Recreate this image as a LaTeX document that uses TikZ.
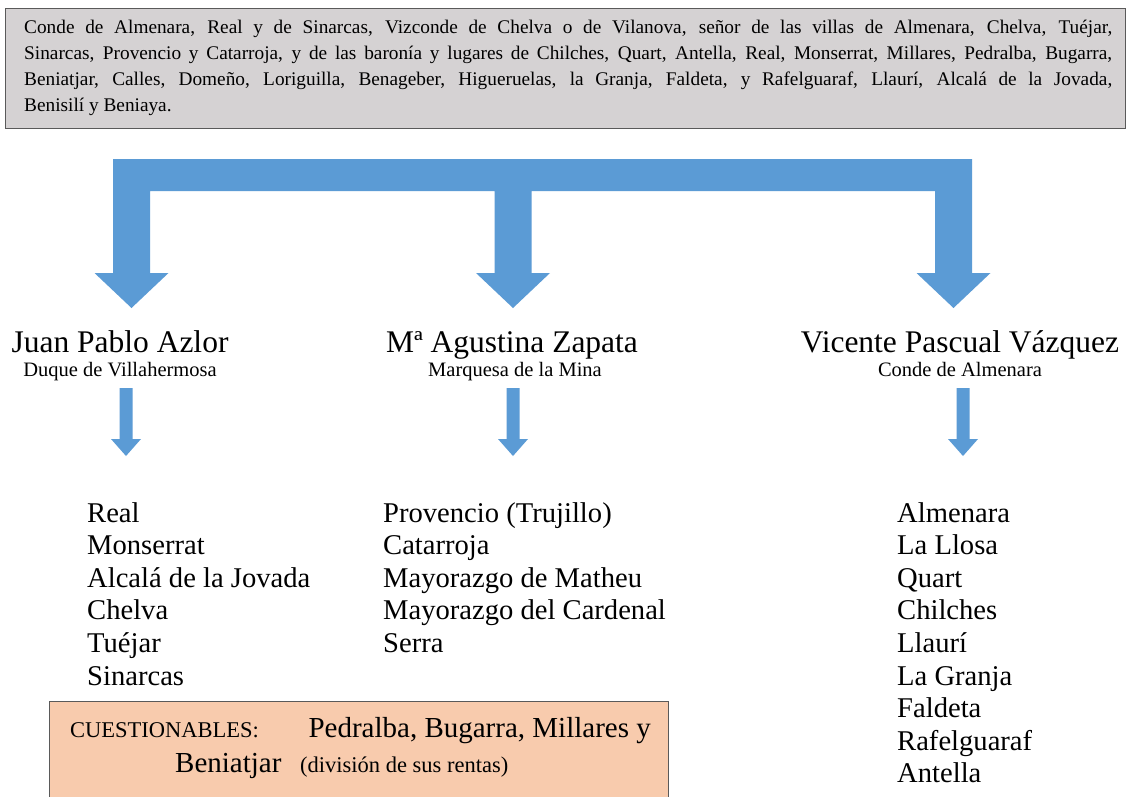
\documentclass[tikz,border=0pt]{standalone}
\usepackage{fontspec}
\setmainfont{Liberation Serif}
\definecolor{arrowblue}{HTML}{5B9BD5}
\definecolor{headgray}{HTML}{D5D2D3}
\definecolor{peach}{HTML}{F8CBAD}
\definecolor{edgegray}{HTML}{5A5A5A}

% small down-pointing block arrow: centre x, shaft top, head top, tip
\newcommand{\DownBlock}[4]{%
  \fill[arrowblue] (#1-6.5,#2) -- (#1+6.5,#2) -- (#1+6.5,#3) -- (#1+15,#3)
    -- (#1,#4) -- (#1-15,#3) -- (#1-6.5,#3) -- cycle;}

\begin{document}
\begin{tikzpicture}[x=1pt,y=-1pt,
  panel/.style={draw=edgegray,line width=1.4pt,inner sep=0pt,anchor=north west},
  bodyline/.style={anchor=base west,inner sep=0pt,font=\fontsize{19.3}{23}\selectfont},
  person/.style={anchor=base,inner sep=0pt,font=\fontsize{31.5}{36}\selectfont},
  rank/.style={anchor=base,inner sep=0pt,font=\fontsize{20.5}{24}\selectfont},
  place/.style={anchor=base west,inner sep=0pt,font=\fontsize{28.6}{33}\selectfont},
  bignote/.style={inner sep=0pt,font=\fontsize{29}{33}\selectfont},
  smallnote/.style={inner sep=0pt,font=\fontsize{22.5}{26}\selectfont}]
\useasboundingbox (0,0) rectangle (1128,796);
\fill[white] (0,0) rectangle (1128,796);

% heading panel with the full list of titles
\node[panel,fill=headgray,minimum width=1120pt,minimum height=120pt] (titlebox) at (4.5,7.5) {};
\node[bodyline] (t1) at (24,33) {\makebox[1088pt][s]{Conde de Almenara, Real y de Sinarcas, Vizconde de Chelva o de Vilanova, señor de las villas de Almenara, Chelva, Tuéjar,}};
\node[bodyline] (t2) at (24,59) {\makebox[1088pt][s]{Sinarcas, Provencio y Catarroja, y de las baronía y lugares de Chilches, Quart, Antella, Real, Monserrat, Millares, Pedralba, Bugarra,}};
\node[bodyline] (t3) at (24,85) {\makebox[1088pt][s]{Beniatjar, Calles, Domeño, Loriguilla, Benageber, Higueruelas, la Granja, Faldeta, y Rafelguaraf, Llaurí, Alcalá de la Jovada,}};
\node[bodyline] (t4) at (24,111) {Benisilí y Beniaya.};

% branching block arrow to the three heirs
\fill[arrowblue] (113,159) -- (972,159) -- (972,273) -- (990.5,273) -- (953.5,308)
  -- (916.5,273) -- (935,273) -- (935,191) -- (531.5,191) -- (531.5,273) -- (550,273)
  -- (513,308) -- (476,273) -- (494.5,273) -- (494.5,191) -- (150,191) -- (150,273)
  -- (168.5,273) -- (131.5,308) -- (94.5,273) -- (113,273) -- cycle;

% heirs
\node[person] (azlor) at (120,352) {Juan Pablo Azlor};
\node[rank] (azlorrank) at (120,376) {Duque de Villahermosa};
\node[person] (zapata) at (512,352) {Mª Agustina Zapata};
\node[rank] (zapatarank) at (515,376) {Marquesa de la Mina};
\node[person] (vazquez) at (960,352) {Vicente Pascual Vázquez};
\node[rank] (vazquezrank) at (960,376) {Conde de Almenara};

\DownBlock{126}{388}{439}{456}
\DownBlock{513}{388}{439}{456}
\DownBlock{963}{388}{439}{456}

% estates of each heir
\foreach \txt [count=\i] in {Real,Monserrat,Alcalá de la Jovada,Chelva,Tuéjar,Sinarcas}
  \node[place] (a\i) at (87,{522+32.6*(\i-1)}) {\txt};
\foreach \txt [count=\i] in {Provencio (Trujillo),Catarroja,Mayorazgo de Matheu,Mayorazgo del Cardenal,Serra}
  \node[place] (z\i) at (383,{522+32.6*(\i-1)}) {\txt};
\foreach \txt [count=\i] in {Almenara,La Llosa,Quart,Chilches,Llaurí,La Granja,Faldeta,Rafelguaraf,Antella}
  \node[place] (v\i) at (897,{522+32.6*(\i-1)}) {\txt};

% disputed estates
\node[panel,fill=peach,minimum width=619pt,minimum height=110pt] (cuestbox) at (49,701) {};
\node[smallnote,anchor=base west] (cq) at (70,737) {CUESTIONABLES:};
\node[bignote,anchor=base east] (cqa) at (651,737) {Pedralba, Bugarra, Millares y};
\node[bignote,anchor=base west] (cqb) at (175,772) {Beniatjar};
\node[smallnote,anchor=base west] (cqc) at (300,772) {(división de sus rentas)};
\end{tikzpicture}
\end{document}
